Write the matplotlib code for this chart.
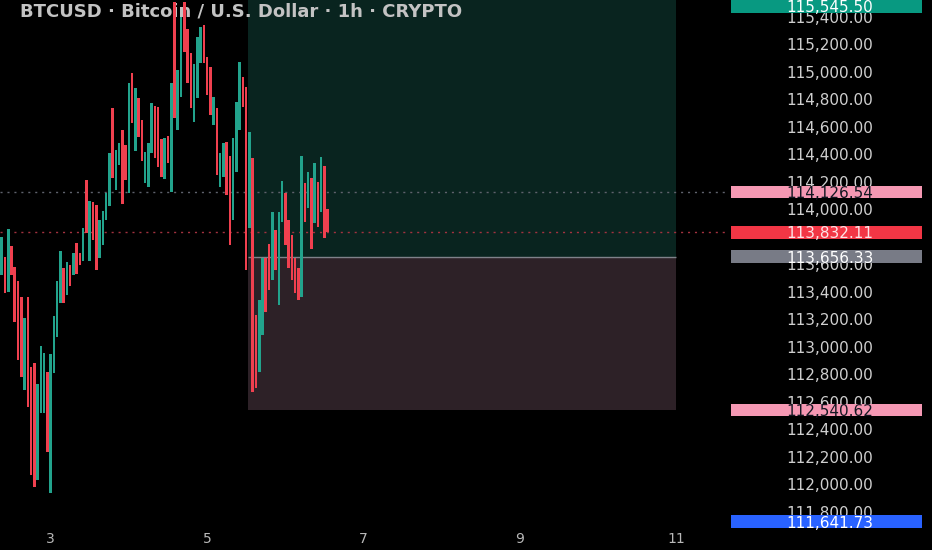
import numpy as np
import matplotlib
matplotlib.use("Agg")
import matplotlib.pyplot as plt
from matplotlib.patches import Rectangle
from matplotlib.ticker import FuncFormatter

# ---------------- data ----------------
title = "BTCUSD · Bitcoin / U.S. Dollar · 1h · CRYPTO"
first_candle_day = 2.375          # Aug 2, 09:00 (in days of month)
opens = [
    113522, 113653, 113398, 113733, 113580, 113478, 113362, 112686, 113362, 112853,
    112882, 112031, 112519, 112519, 112817, 111937, 112809, 113071, 113318, 113573,
    113377, 113595, 113522, 113755, 113682, 113624, 114213, 113624, 114053, 114031,
    113646, 113740, 113922, 114024, 114737, 114140, 114322, 114577, 114468, 114118,
    114991, 114424, 114809, 114649, 114191, 114162, 114409, 114751, 114744, 114511,
    114220, 114533, 114126, 115510, 114577, 114817, 115510, 115311, 115137, 114635,
    114809, 115064, 115340, 115108, 115035, 114613, 114737, 114162, 114235, 114489,
    114388, 113922, 114271, 114577, 114962, 114889, 113864, 114373, 113231, 112817,
    113086, 113646, 113748, 113486, 113849, 113304, 113908, 114118, 113922, 113813,
    113646, 113573, 113362, 114191, 114009, 114228, 113900, 114198, 113980, 114315,
    114002,
]
closes = [
    113798, 113391, 113857, 113522, 113180, 112904, 112780, 113209, 112562, 112068,
    111980, 112729, 113006, 112955, 112235, 112948, 113224, 113478, 113697, 113318,
    113617, 113442, 113682, 113529, 113595, 113864, 113828, 114060, 113777, 113558,
    113922, 113988, 114118, 114409, 114228, 114431, 114482, 114038, 114213, 114918,
    114628, 114882, 114526, 114351, 114417, 114482, 114773, 114373, 114308, 114235,
    114518, 114337, 114918, 114664, 115013, 115399, 115144, 114918, 114737, 115057,
    115253, 115326, 115064, 114831, 114686, 114817, 114249, 114409, 114482, 114104,
    113740, 114518, 114780, 115071, 114744, 113558, 114562, 112671, 112700, 113340,
    113646, 113253, 113413, 113980, 113558, 113980, 114206, 113740, 113573, 113486,
    113391, 113340, 114388, 113908, 114271, 113711, 114337, 113871, 114380, 113791,
    113832,
]
x_ticks = [3, 5, 7, 9, 11]
x_tick_labels = ["3", "5", "7", "9", "11"]
# 113,800 is hidden behind the current-price label in the reference
price_ticks = [111800, 112000, 112200, 112400, 112600, 112800, 113000, 113200,
               113400, 113600, 114000, 114200, 114400, 114600, 114800,
               115000, 115200, 115400]
entry_price = 113656.33
target_price = 115545.50
stop_price = 112540.62
position_start = 5.52
position_end = 10.99
current_price = 113832.11
marker_price = 114126.54
low_label_price = 111641.73

price_labels = [
    (target_price, "115,545.50", "#089981", "white"),
    (marker_price, "114,126.54", "#f598b3", "#131722"),
    (current_price, "113,832.11", "#f23645", "#fde4e7"),
    (entry_price, "113,656.33", "#787b86", "white"),
    (stop_price, "112,540.62", "#f598b3", "#131722"),
    (low_label_price, "111,641.73", "#2962ff", "white"),
]

# ---------------- figure ----------------
W, H = 932, 550
fig = plt.figure(figsize=(W / 100, H / 100), dpi=100, facecolor="black")
ax = fig.add_axes([0, 22 / H, 725 / W, 528 / H])
ax.set_facecolor("black")
for s in ax.spines.values():
    s.set_visible(False)
ax.set_xlim(2.353, 11.62)
ax.set_ylim(111682, 115522)

# position tool zones
ax.add_patch(Rectangle((position_start, entry_price), position_end - position_start,
                       target_price - entry_price, facecolor="#09241f",
                       edgecolor="none", zorder=1))
ax.add_patch(Rectangle((position_start, stop_price), position_end - position_start,
                       entry_price - stop_price, facecolor="#2d2127",
                       edgecolor="none", zorder=1))
ax.hlines(entry_price, position_start, position_end, color="#7f828a", lw=1, zorder=1.5)

# dotted price lines
ax.axhline(marker_price, color="#5f626c", ls=(0, (1.5, 3.5)), lw=1, zorder=2)
ax.axhline(current_price, color="#a3323f", ls=(0, (1.5, 3.5)), lw=1, zorder=2)

# candles
o = np.array(opens, dtype=float)
c = np.array(closes, dtype=float)
times = first_candle_day + np.arange(len(o)) / 24.0
colors = np.where(c >= o, "#22a38c", "#f0404f")
ax.bar(times, np.abs(c - o), bottom=np.minimum(o, c), width=0.78 / 24,
       color=colors, linewidth=0, zorder=3)

# title (above the position zones, below the candles)
ax.text(20 / W, 1 - 12 / H, title, transform=fig.transFigure, ha="left",
        va="center", color="#c3c3c3", fontsize=13, fontweight="bold", zorder=2.5)

# axes ticks
ax.set_xticks(x_ticks, x_tick_labels)
ax.tick_params(axis="x", length=0, pad=3, labelsize=10, labelcolor="#b8b8b8")
ax.yaxis.tick_right()
ax.set_yticks(price_ticks)
ax.yaxis.set_major_formatter(FuncFormatter(lambda v, p: f"{v:,.2f}"))
ax.tick_params(axis="y", length=0, pad=(830 - 725) * 0.72, labelsize=11,
               labelcolor="#cfcfcf")
plt.setp(ax.get_yticklabels(), ha="center")

# price label boxes on the scale
bh = 12.7
for price, txt, fc, tc in price_labels:
    y = ax.transData.transform((3, price))[1]
    y = min(max(y, 22 + bh / 2), H - bh / 2)
    fig.add_artist(Rectangle((730.7 / W, (y - bh / 2) / H), 191 / W, bh / H,
                             transform=fig.transFigure, facecolor=fc,
                             edgecolor="none", zorder=5))
    fig.text(830 / W, y / H, txt, ha="center", va="center_baseline", color=tc,
             fontsize=11, zorder=6)

fig.savefig("out.png", dpi=100, facecolor="black")
